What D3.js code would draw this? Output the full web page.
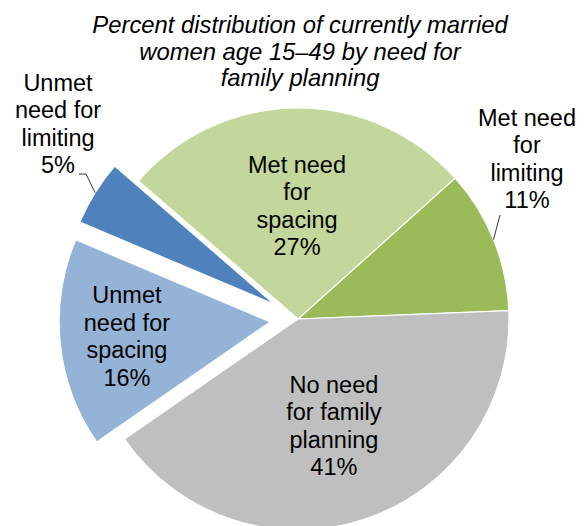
<!DOCTYPE html>
<html>
<head>
<meta charset="utf-8">
<script src="https://cdn.jsdelivr.net/npm/d3@7"></script>
<style>
  body { margin: 0; background: #fff; }
  svg text { font-family: "Liberation Sans", Arial, sans-serif; fill: #000; }
</style>
</head>
<body>
<div id="chart"></div>
<script>
// chart data
const categories = ["Met need for limiting", "No need for family planning", "Unmet need for spacing", "Unmet need for limiting", "Met need for spacing"];
const values = [11, 41, 16, 5, 27];
const labelLines = [
    ["Met need", "for", "limiting", "11%"],
    ["No need", "for family", "planning", "41%"],
    ["Unmet", "need for", "spacing", "16%"],
    ["Unmet", "need for", "limiting", "5%"],
    ["Met need", "for", "spacing", "27%"]
];
const titleLines = ["Percent distribution of currently married", "women age 15\u201349 by need for", "family planning"];

const colors = ["#9bbb59", "#bfbfbf", "#95b3d7", "#4f81bd", "#c3d69b"];
const exploded = [false, false, true, true, false];

let width = 585, height = 526;
let cx = 298, cy = 319, radius = 211;

let svg = d3.select("#chart").append("svg")
    .attr("width", width)
    .attr("height", height);

// title
svg.append("text")
    .attr("text-anchor", "middle")
    .style("font-style", "italic")
    .style("font-size", "23.8px")
    .selectAll("tspan")
    .data(titleLines)
    .join("tspan")
    .attr("x", 300)
    .attr("y", (d, i) => 33 + i * 26.5)
    .text(d => d);

let start = 48.1 * Math.PI / 180;
let pie = d3.pie().sort(null).startAngle(start).endAngle(start + 2 * Math.PI);
let arcs = pie(values);

let arc = d3.arc().innerRadius(0).outerRadius(radius);

let g = svg.append("g").attr("transform", `translate(${cx}, ${cy})`);

// offset of each slice (exploded ones pulled out along their mid angle)
function offset(d, i) {
    let a = (d.startAngle + d.endAngle) / 2;
    let k = exploded[i] ? 28 : 0;
    return [Math.sin(a) * k, -Math.cos(a) * k];
}

g.selectAll("path.slice")
    .data(arcs)
    .join("path")
    .attr("class", "slice")
    .attr("d", arc)
    .attr("transform", (d, i) => `translate(${offset(d, i)})`)
    .attr("fill", (d, i) => colors[i])
    .attr("stroke", "#fff")
    .attr("stroke-width", 1.2);

// label placement: inside labels sit on an inner arc, outside ones get a leader line
let labelRadius = [null, 113, 144, null, 113];
let outsideLabel = {0: [229, -160], 3: [-240, -195]};
let lh = 27.5;

arcs.forEach((d, i) => {
    let off = offset(d, i);
    let a = (d.startAngle + d.endAngle) / 2;
    let pos;
    if (labelRadius[i]) {
        pos = [off[0] + Math.sin(a) * labelRadius[i], off[1] - Math.cos(a) * labelRadius[i]];
    } else {
        pos = outsideLabel[i];
        let edge = [off[0] + Math.sin(a) * radius, off[1] - Math.cos(a) * radius];
        let pts;
        if (i === 0) {
            pts = [[pos[0] - 27, pos[1] + 56], edge];
        } else {
            pts = [[pos[0] + 21, pos[1] + 50], [pos[0] + 28, pos[1] + 50], edge];
        }
        g.append("path")
            .attr("d", d3.line()(pts))
            .attr("fill", "none")
            .attr("stroke", "#000")
            .attr("stroke-width", 0.8);
    }
    let lines = labelLines[i];
    g.append("text")
        .attr("text-anchor", "middle")
        .style("font-size", "23.5px")
        .selectAll("tspan")
        .data(lines)
        .join("tspan")
        .attr("x", pos[0])
        .attr("y", (t, j) => pos[1] + (j - (lines.length - 1) / 2) * lh + 8)
        .text(t => t);
});
</script>
</body>
</html>
